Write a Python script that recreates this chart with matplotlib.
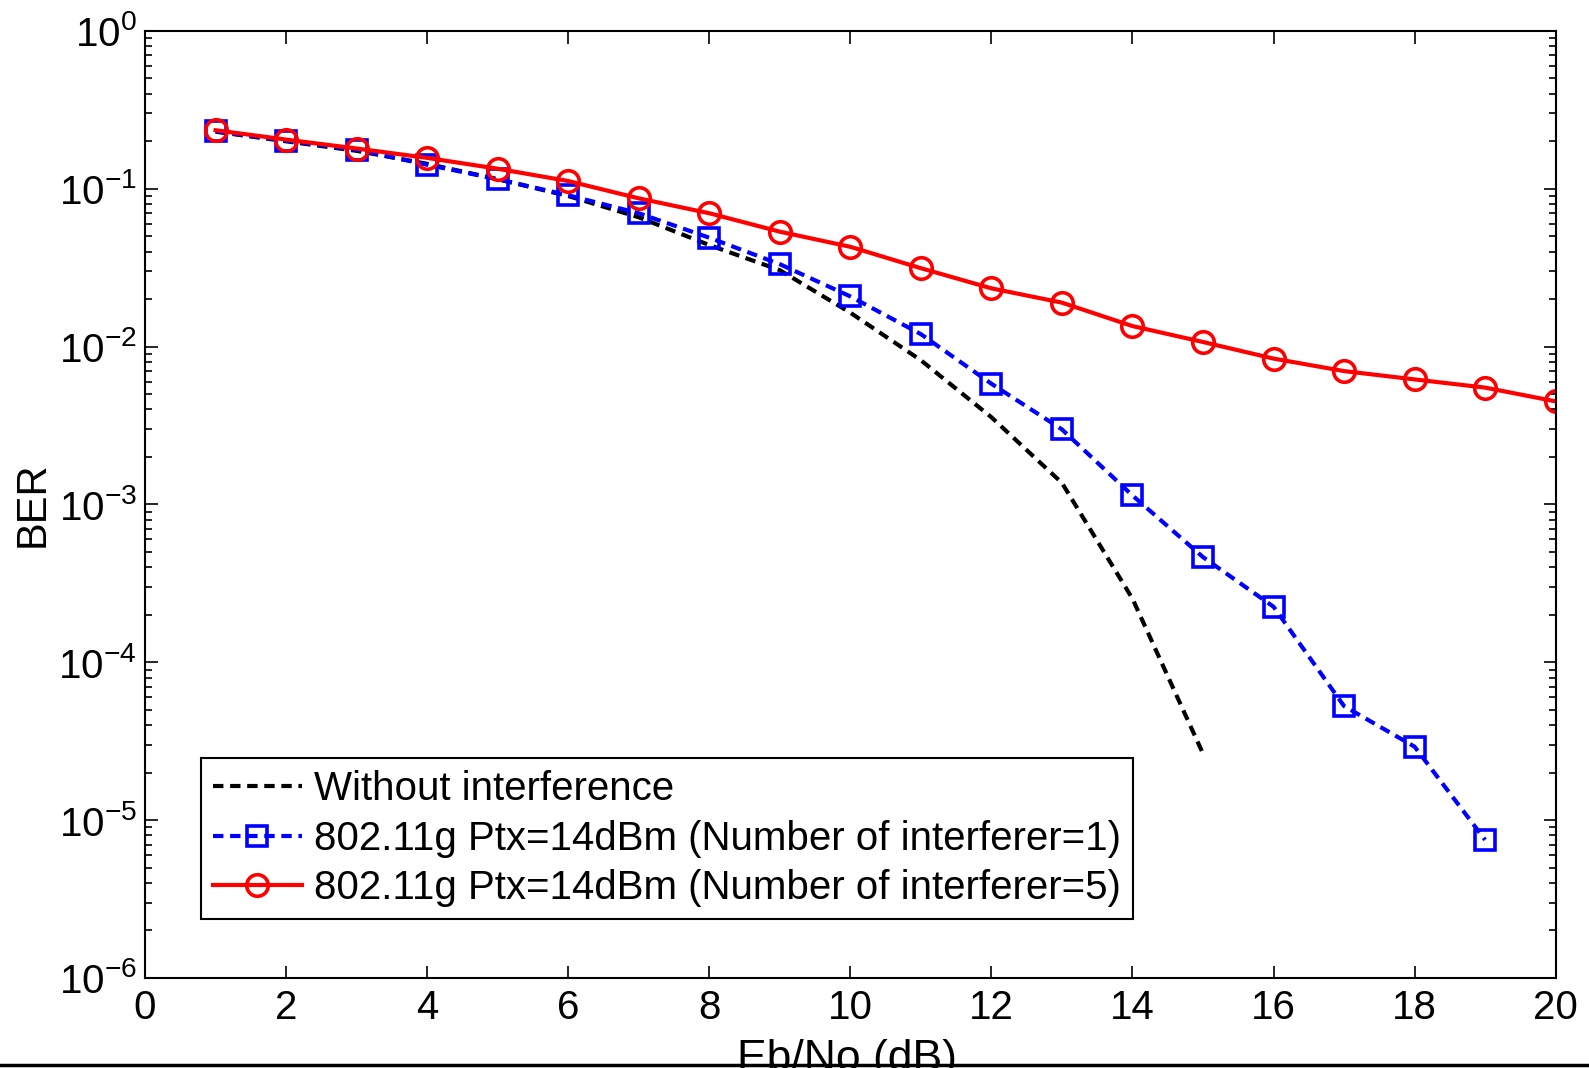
import numpy as np
import matplotlib
matplotlib.use('Agg')
import matplotlib.pyplot as plt
from matplotlib.lines import Line2D
import matplotlib.ticker as mticker

plt.rcParams['font.family'] = ['Liberation Sans', 'DejaVu Sans']
plt.rcParams['mathtext.fontset'] = 'custom'
plt.rcParams['mathtext.rm'] = 'Liberation Sans'
plt.rcParams['mathtext.it'] = 'Liberation Sans'
plt.rcParams['mathtext.bf'] = 'Liberation Sans'
plt.rcParams['axes.unicode_minus'] = False

# Eb/No (dB)
ebno_ref = [1, 2, 3, 4, 5, 6, 7, 8, 9, 10, 11, 12, 13, 14, 15]
ber_ref = [0.23, 0.20, 0.174, 0.144, 0.115, 0.090, 0.066, 0.044, 0.0305,
           0.0164, 0.0082, 0.00357, 0.00137, 2.53e-4, 2.64e-5]

ebno_i1 = [1, 2, 3, 4, 5, 6, 7, 8, 9, 10, 11, 12, 13, 14, 15, 16, 17, 18, 19]
ber_i1 = [0.231, 0.202, 0.177, 0.142, 0.115, 0.091, 0.070, 0.049, 0.0333,
          0.0208, 0.0120, 0.00582, 0.00299, 0.00114, 4.64e-4, 2.25e-4,
          5.28e-5, 2.92e-5, 7.5e-6]

ebno_i5 = [1, 2, 3, 4, 5, 6, 7, 8, 9, 10, 11, 12, 13, 14, 15, 16, 17, 18, 19, 20]
ber_i5 = [0.235, 0.205, 0.180, 0.157, 0.134, 0.112, 0.087, 0.070, 0.0535,
          0.0429, 0.0314, 0.0234, 0.019, 0.0135, 0.0107, 0.0084, 0.0070,
          0.0062, 0.0055, 0.0045]

labels = ['Without interference',
          '802.11g Ptx=14dBm (Number of interferer=1)',
          '802.11g Ptx=14dBm (Number of interferer=5)']

fs = 29

fig = plt.figure(figsize=(15.89, 10.68), dpi=100)
ax = fig.add_axes([0.0913, 0.0843, 0.8877, 0.8867])

ax.semilogy(ebno_ref, ber_ref, color='black', lw=3, ls=(0, (2.5, 1.6)), label=labels[0])
ax.semilogy(ebno_i1, ber_i1, color='blue', lw=3, ls=(0, (2.5, 1.6)), marker='s',
            ms=14, mfc='none', mec='blue', mew=2.6, label=labels[1])
ax.semilogy(ebno_i5, ber_i5, color='red', lw=3, ls='-', marker='o',
            ms=15.5, mfc='none', mec='red', mew=2.6, label=labels[2])

ax.set_xlim(0, 20)
ax.set_ylim(1e-6, 1e0)
ax.set_xticks(np.arange(0, 21, 2))
ax.yaxis.set_major_locator(mticker.LogLocator(base=10, numticks=10))
ax.yaxis.set_minor_locator(mticker.LogLocator(base=10, subs=np.arange(2, 10), numticks=10))
ax.yaxis.set_minor_formatter(mticker.NullFormatter())

ax.tick_params(which='both', direction='in', top=True, right=True, width=1.2)
ax.tick_params(which='major', length=9)
ax.tick_params(which='minor', length=5)
ax.tick_params(axis='x', labelsize=fs, pad=8)
ax.tick_params(axis='y', labelsize=fs, pad=6)
for s in ax.spines.values():
    s.set_linewidth(1.5)

ax.set_ylabel('BER', fontsize=fs + 1, labelpad=4)

leg = ax.legend(loc='lower left', bbox_to_anchor=(0.0397, 0.0623), fontsize=fs,
                fancybox=False, edgecolor='black', framealpha=1, borderpad=0.3,
                labelspacing=0.28, handlelength=2.2, handletextpad=0.3, borderaxespad=0)
leg.get_frame().set_linewidth(1.5)

# x label partly cut off by the page edge, with the rule under it
fig.text(0.533, 0.027, 'Eb/No (dB)', fontsize=32, ha='center', va='top')
fig.add_artist(Line2D([0, 1], [0.0025, 0.0025], transform=fig.transFigure,
                      color='black', lw=2.5))

fig.savefig('out.png', dpi=100)
